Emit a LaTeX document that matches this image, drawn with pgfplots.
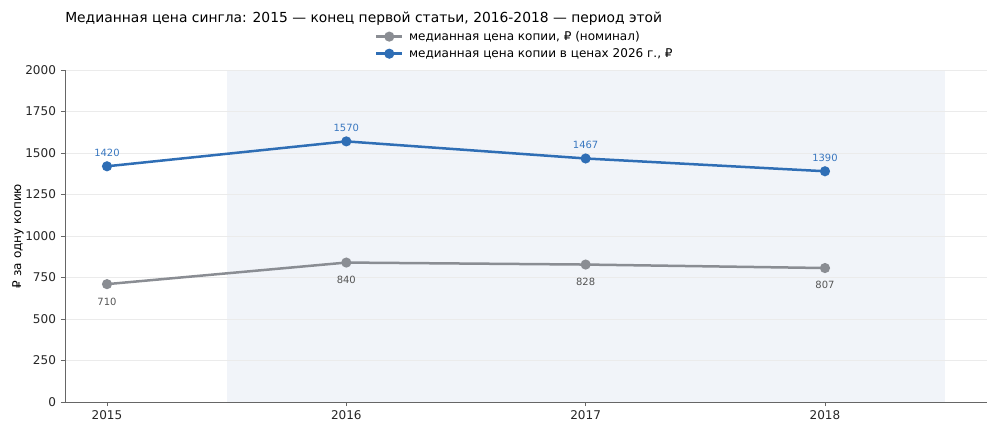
\documentclass[border=0pt]{standalone}
\usepackage{pgfplots}
\pgfplotsset{compat=1.18}
\usepackage{fontspec}
\setmainfont{DejaVu Sans}
\definecolor{cblue}{HTML}{2F6EB5}
\definecolor{cgray}{HTML}{8A8D93}
\definecolor{lblue}{HTML}{3A78C0}
\definecolor{lgray}{HTML}{555555}
\definecolor{shade}{HTML}{F1F4F9}
\definecolor{spine}{HTML}{666666}
\begin{document}
\begin{tikzpicture}
\path (-46.8bp,-22.32bp) rectangle (673.2bp,289.44bp);
\begin{axis}[
  set layers,
  at={(0bp,0bp)}, anchor=south west,
  scale only axis, width=663.84bp, height=239.04bp,
  xmin=2014.8245, xmax=2018.677, ymin=0, ymax=2000,
  xtick={2015,2016,2017,2018},
  xticklabels={2015,2016,2017,2018},
  ytick={0,250,...,2000},
  axis x line*=bottom, axis y line*=left,
  axis line style={spine, line width=0.6bp, -},
  tick style={spine, line width=0.6bp},
  tick align=outside, major tick length=3bp,
  ymajorgrids, grid style={draw=black!8, line width=0.5bp},
  /pgf/number format/assume math mode=true,
  /pgf/number format/1000 sep={},
  ticklabel style={font=\fontsize{8.7}{10.4}\selectfont, text=black!85},
  ylabel={₽ за одну копию},
  ylabel style={at={(axis description cs:-0.051,0.5)}, anchor=center, font=\fontsize{8.7}{10.4}\selectfont},
  legend style={draw=none, fill=none, at={(axis description cs:0.336,1.075)}, anchor=west, font=\fontsize{8.7}{10.4}\selectfont, row sep=0.3bp, inner sep=0pt, nodes={inner sep=2bp}},
  legend cell align=left,
  legend image code/.code={\draw[mark repeat=2,mark phase=2,#1] plot coordinates {(0bp,0bp)(9.35bp,0bp)(18.7bp,0bp)};},
  clip=false,
]
\addplot[on layer=axis background, draw=none, fill=shade, forget plot] coordinates {(2015.5,0) (2018.5,0) (2018.5,2000) (2015.5,2000)} -- cycle;
\addplot[cgray, line width=1.8bp, mark=*, mark size=2.7bp, mark options={solid, fill=cgray, draw=cgray},
  nodes near coords, every node near coord/.append style={anchor=north, yshift=-5.5bp, font=\fontsize{7.2}{8.6}\selectfont, text=lgray}]
  coordinates {(2015,710) (2016,840) (2017,828) (2018,807)};
\addlegendentry{\hspace{2bp}медианная цена копии, ₽ (номинал)}
\addplot[cblue, line width=1.8bp, mark=*, mark size=2.7bp, mark options={solid, fill=cblue, draw=cblue},
  nodes near coords, every node near coord/.append style={anchor=south, yshift=3bp, font=\fontsize{7.2}{8.6}\selectfont, text=lblue}]
  coordinates {(2015,1420) (2016,1570) (2017,1467) (2018,1390)};
\addlegendentry{\hspace{2bp}медианная цена копии в ценах 2026 г., ₽}
\node[anchor=base west, inner sep=0pt, font=\fontsize{10}{12}\selectfont] at (axis description cs:0,1.1416) {Медианная цена сингла: 2015 — конец первой статьи, 2016-2018 — период этой};
\end{axis}
\end{tikzpicture}
\end{document}
